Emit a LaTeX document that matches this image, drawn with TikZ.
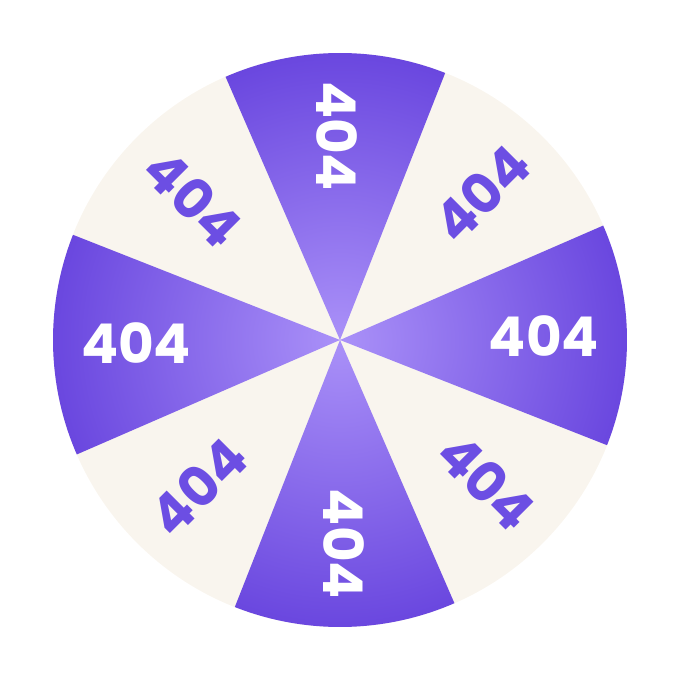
\documentclass[tikz,border=0pt]{standalone}
\usepackage{fontspec}
\setmainfont{Poppins}
\usepackage{xcolor}
\usepackage{tikz}

\definecolor{WheelCream}{HTML}{F9F5EE}
\definecolor{WheelDark}{HTML}{6A47DF}
\definecolor{WheelLight}{HTML}{AA91F8}
\definecolor{WheelInk}{HTML}{6C4EE3}
\pgfdeclareradialshading{wheelglow}{\pgfpoint{0bp}{0bp}}{color(0bp)=(WheelLight); color(25bp)=(WheelDark); color(50bp)=(WheelDark)}

\tikzset{
  errnum/.style={inner sep=0pt, font=\fontsize{39}{39}\selectfont\bfseries},
  onpurple/.style={errnum, text=white},
  oncream/.style={errnum, text=WheelInk}
}

\begin{document}
\begin{tikzpicture}[x=0.025cm, y=0.025cm]
  \useasboundingbox (-340,-341) rectangle (340,340);

  % Wheel
  \fill[WheelCream] (0,0) coordinate (hub) circle (287);

  % Purple sectors (shaded from the hub out)
  \begin{scope}
    \clip (hub) -- (-21.5:287) arc[start angle=-21.5, end angle=23.5, radius=287] -- cycle
          (hub) -- (68.5:287) arc[start angle=68.5, end angle=113.5, radius=287] -- cycle
          (hub) -- (158.5:287) arc[start angle=158.5, end angle=203.5, radius=287] -- cycle
          (hub) -- (248.5:287) arc[start angle=248.5, end angle=293.5, radius=287] -- cycle;
    \shade[shading=wheelglow] (hub) circle (287);
  \end{scope}

  % Labels
  \foreach \a/\r/\sty in {1/0/onpurple, 91/-90/onpurple, 181/0/onpurple, 271/-90/onpurple,
                          46/45/oncream, 136/-45/oncream, 226/45/oncream, 316/-45/oncream} {
    \node[\sty, rotate=\r] (lab\a) at (\a:204) {404};
  }
\end{tikzpicture}
\end{document}
